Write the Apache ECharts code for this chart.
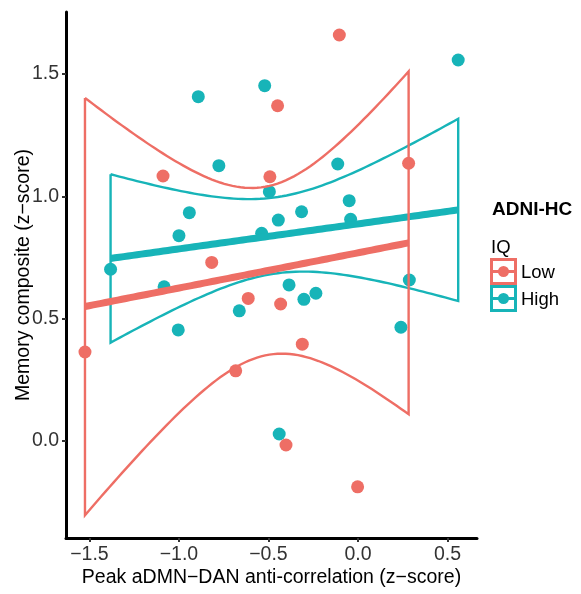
<!DOCTYPE html>
<html>
<head>
<meta charset="utf-8">
<script src="https://cdn.jsdelivr.net/npm/echarts@6/dist/echarts.min.js"></script>
<style>
  html, body { margin: 0; padding: 0; background: #fff; }
  #chart { width: 581px; height: 594px; }
</style>
</head>
<body>
<div id="chart"></div>
<script>
// Peak aDMN–DAN anti-correlation vs memory composite, split by IQ group
const lowX  = [-1.525, -1.089, -0.817, -0.683, -0.613, -0.492, -0.449, -0.432, -0.402, -0.311, -0.104, -0.002, 0.283];
const lowY  = [0.364, 1.083, 0.730, 0.287, 0.583, 1.080, 1.370, 0.560, -0.016, 0.396, 1.659, -0.187, 1.135];
const highX = [-1.382, -1.083, -1.004, -1.000, -0.942, -0.892, -0.777, -0.663, -0.521, -0.538, -0.495, -0.445,
               -0.385, -0.315, -0.302, -0.235, -0.440, -0.113, -0.049, -0.041, 0.240, 0.287, 0.560];
const highY = [0.702, 0.630, 0.454, 0.839, 0.933, 1.407, 1.125, 0.532, 1.452, 0.849, 1.019, 0.903,
               0.638, 0.937, 0.579, 0.604, 0.029, 1.132, 0.982, 0.906, 0.465, 0.658, 1.557];
const groups = ['Low', 'High'];
const xTicks = [-1.5, -1.0, -0.5, 0.0, 0.5];
const yTicks = [0.0, 0.5, 1.0, 1.5];

const RED = '#EE6E65';
const CYAN = '#17B4B8';
const groupColor = { Low: RED, High: CYAN };

// Ordinary least squares fit with a 95% confidence band (t quantiles for n-2 df)
const T975 = { 11: 2.200985, 21: 2.079614 };
function lmFit(xs, ys, steps) {
  const n = xs.length;
  const mx = xs.reduce((a, b) => a + b, 0) / n;
  const my = ys.reduce((a, b) => a + b, 0) / n;
  let sxx = 0, sxy = 0;
  for (let i = 0; i < n; i++) { sxx += (xs[i] - mx) ** 2; sxy += (xs[i] - mx) * (ys[i] - my); }
  const b = sxy / sxx, a = my - b * mx;
  let sse = 0;
  for (let i = 0; i < n; i++) sse += (ys[i] - a - b * xs[i]) ** 2;
  const s = Math.sqrt(sse / (n - 2));
  const t = T975[n - 2];
  const lo = Math.min(...xs), hi = Math.max(...xs);
  const fit = [], upper = [], lower = [];
  for (let k = 0; k < steps; k++) {
    const x = lo + (hi - lo) * k / (steps - 1);
    const yh = a + b * x;
    const se = s * Math.sqrt(1 / n + (x - mx) ** 2 / sxx);
    fit.push([x, yh]);
    upper.push([x, yh + t * se]);
    lower.push([x, yh - t * se]);
  }
  // closed outline of the band: upper edge, right side, lower edge back, left side
  const band = upper.concat(lower.slice().reverse(), [upper[0]]);
  return { fit, band };
}

const lowFit = lmFit(lowX, lowY, 80);
const highFit = lmFit(highX, highY, 80);

const FONT = 'Liberation Sans, Arial, Helvetica, sans-serif';
const fmt = v => (v < 0 ? '\u2212' : '') + Math.abs(v).toFixed(1);

// Legend keys: outlined box with a horizontal line and a dot, one per group
const KEY_LEFT = 491.5, KEY_TOP = 259.5, KEY_SIZE = 24, KEY_STEP = 27;
const legendGraphics = [
  { type: 'text', left: 492, top: 200, style: { text: 'ADNI-HC', fontSize: 19, fontWeight: 'bold', fill: '#000', fontFamily: FONT } },
  { type: 'text', left: 491, top: 238, style: { text: 'IQ', fontSize: 18.5, fill: '#000', fontFamily: FONT } }
];
groups.forEach((g, i) => {
  const y0 = KEY_TOP + i * KEY_STEP;
  const cy = y0 + KEY_SIZE / 2;
  const c = groupColor[g];
  legendGraphics.push(
    { type: 'rect', shape: { x: KEY_LEFT, y: y0, width: KEY_SIZE, height: KEY_SIZE },
      style: { fill: '#fff', stroke: c, lineWidth: 3 } },
    { type: 'line', shape: { x1: KEY_LEFT, y1: cy, x2: KEY_LEFT + KEY_SIZE, y2: cy },
      style: { stroke: c, lineWidth: 3 } },
    { type: 'circle', shape: { cx: KEY_LEFT + KEY_SIZE / 2, cy: cy, r: 5.5 },
      style: { fill: c } },
    { type: 'text', x: 521, y: cy + 1, style: { text: g, fontSize: 18.5, fill: '#000', fontFamily: FONT,
      textVerticalAlign: 'middle', verticalAlign: 'middle' } }
  );
});

const chart = echarts.init(document.getElementById('chart'), null, { renderer: 'canvas' });

chart.setOption({
  animation: false,
  backgroundColor: '#fff',
  textStyle: { fontFamily: FONT },
  grid: { left: 66, right: 104, top: 12, bottom: 56, containLabel: false, outerBoundsMode: 'none' },
  xAxis: {
    type: 'value', min: -1.631, max: 0.665,
    name: 'Peak aDMN\u2212DAN anti-correlation (z\u2212score)',
    nameLocation: 'middle', nameGap: 30, nameMoveOverlap: false,
    nameTextStyle: { fontSize: 19.5, color: '#000', fontFamily: FONT },
    axisLine: { show: true, onZero: false, lineStyle: { color: '#000', width: 3 } },
    axisTick: { show: true, length: 4, customValues: xTicks, lineStyle: { color: '#333', width: 2 } },
    axisLabel: { customValues: xTicks, margin: 7, fontSize: 19.5, color: '#333', fontFamily: FONT, formatter: fmt },
    splitLine: { show: false }
  },
  yAxis: {
    type: 'value', min: -0.396, max: 1.753,
    name: 'Memory composite (z\u2212score)',
    nameLocation: 'middle', nameGap: 32, nameRotate: 90, nameMoveOverlap: false,
    nameTextStyle: { fontSize: 19.5, color: '#000', fontFamily: FONT },
    axisLine: { show: true, onZero: false, lineStyle: { color: '#000', width: 3 } },
    axisTick: { show: true, length: 4, customValues: yTicks, lineStyle: { color: '#333', width: 2 } },
    axisLabel: { customValues: yTicks, margin: 7, fontSize: 19.5, color: '#333', fontFamily: FONT, formatter: fmt },
    splitLine: { show: false }
  },
  graphic: legendGraphics,
  series: [
    {
      name: 'High', type: 'scatter', z: 2, symbolSize: 13,
      itemStyle: { color: CYAN, opacity: 1 },
      data: highX.map((x, i) => [x, highY[i]])
    },
    {
      name: 'Low', type: 'scatter', z: 3, symbolSize: 13,
      itemStyle: { color: RED, opacity: 1 },
      data: lowX.map((x, i) => [x, lowY[i]])
    },
    {
      name: 'High band', type: 'line', z: 4, showSymbol: false, symbol: 'none', silent: true,
      lineStyle: { color: CYAN, width: 2.4, join: 'miter' }, itemStyle: { color: CYAN },
      data: highFit.band
    },
    {
      name: 'High fit', type: 'line', z: 5, showSymbol: false, symbol: 'none', silent: true,
      lineStyle: { color: CYAN, width: 7, cap: 'butt' }, itemStyle: { color: CYAN },
      data: highFit.fit
    },
    {
      name: 'Low band', type: 'line', z: 6, showSymbol: false, symbol: 'none', silent: true,
      lineStyle: { color: RED, width: 2.4, join: 'miter' }, itemStyle: { color: RED },
      data: lowFit.band
    },
    {
      name: 'Low fit', type: 'line', z: 7, showSymbol: false, symbol: 'none', silent: true,
      lineStyle: { color: RED, width: 7, cap: 'butt' }, itemStyle: { color: RED },
      data: lowFit.fit
    }
  ]
});
</script>
</body>
</html>
